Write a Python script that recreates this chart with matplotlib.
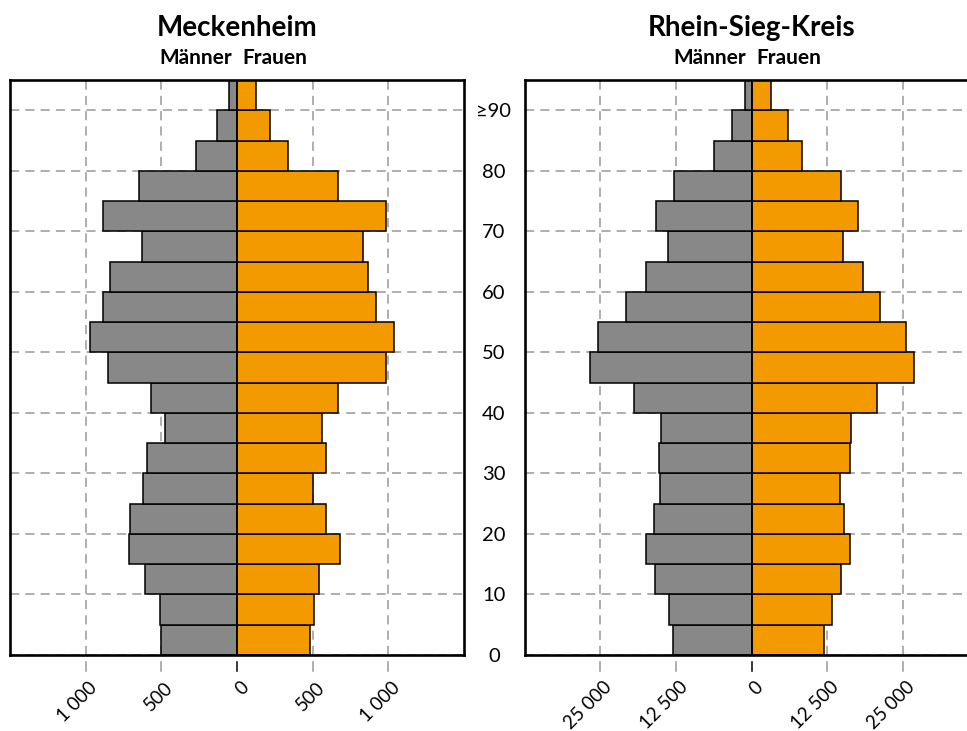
import numpy as np
import matplotlib.pyplot as plt
import matplotlib.transforms as mtransforms

plt.rcParams['font.family'] = ['Lato', 'DejaVu Sans']

# Altersgruppen: 0-4, 5-9, ..., 85-89, >=90
age_start = np.arange(0, 95, 5)

# Meckenheim
mk_maenner = [504, 509, 608, 711, 709, 623, 597, 474, 568, 855,
              971, 888, 841, 630, 888, 650, 271, 134, 51]
mk_frauen = [485, 511, 542, 683, 590, 502, 590, 564, 670, 987,
             1035, 916, 868, 833, 987, 665, 339, 218, 123]

# Rhein-Sieg-Kreis
rsk_maenner = [12900, 13700, 16000, 17350, 16100, 15150, 15350, 14900, 19400, 26650,
               25400, 20800, 17350, 13750, 15850, 12850, 6150, 3200, 1000]
rsk_frauen = [12050, 13250, 14800, 16300, 15350, 14550, 16300, 16400, 20800, 26900,
              25550, 21250, 18500, 15150, 17600, 14750, 8300, 6050, 3250]

mk_ticks = [-1000, -500, 0, 500, 1000]
mk_labels = ['1 000', '500', '0', '500', '1 000']
rsk_ticks = [-25000, -12500, 0, 12500, 25000]
rsk_labels = ['25 000', '12 500', '0', '12 500', '25 000']
y_ticks = list(range(0, 100, 10))
y_labels = ['0', '10', '20', '30', '40', '50', '60', '70', '80', '≥90']

grau = '#888888'
orange = '#F39A00'
gridfarbe = '#999999'

fig = plt.figure(figsize=(9.67, 7.31), dpi=100)
ax1 = fig.add_axes([10 / 967, 76 / 731, 454 / 967, 575 / 731])
ax2 = fig.add_axes([524.5 / 967, 76 / 731, 454 / 967, 575 / 731])


def pyramide(ax, maenner, frauen, xmax, ticks, labels, titel):
    ax.barh(age_start, -np.array(maenner), height=5, align='edge',
            color=grau, edgecolor='black', linewidth=1.1, zorder=3)
    ax.barh(age_start, frauen, height=5, align='edge',
            color=orange, edgecolor='black', linewidth=1.1, zorder=3)
    ax.axvline(0, color='black', linewidth=1.2, zorder=4)
    ax.set_xlim(-xmax, xmax)
    ax.set_ylim(0, 95)
    ax.set_xticks(ticks)
    ax.set_xticklabels(labels, rotation=45, ha='right', va='top',
                       rotation_mode='anchor', fontsize=13.5)
    ax.tick_params(axis='x', length=0, pad=17)
    # Beschriftungen ein paar Pixel nach rechts
    versatz = mtransforms.ScaledTranslation(3 / 100, 0, fig.dpi_scale_trans)
    for lab in ax.get_xticklabels():
        lab.set_transform(lab.get_transform() + versatz)
    ax.set_yticks(y_ticks)
    ax.grid(True, color=gridfarbe, linestyle=(0, (6, 4)), linewidth=1.1, zorder=0)
    for s in ax.spines.values():
        s.set_linewidth(1.9)
        s.set_zorder(5)
    # kurze gestrichelte Verlängerung unter der Achse
    trans = mtransforms.blended_transform_factory(ax.transData, ax.transAxes)
    for t in ticks:
        ax.plot([t, t], [-0.012, -0.028], transform=trans, clip_on=False,
                color='black' if t == 0 else gridfarbe, linewidth=1.1)
    ax.text(0, 1.0 + 52 / 575, titel, transform=trans, ha='center', va='center',
            fontsize=20, fontweight='bold')
    ax.text(-0.011 * 2 * xmax, 1.0 + 22 / 575, 'Männer', transform=trans, ha='right',
            va='center', fontsize=15, fontweight='bold')
    ax.text(0.011 * 2 * xmax, 1.0 + 22 / 575, 'Frauen', transform=trans, ha='left',
            va='center', fontsize=15, fontweight='bold')


pyramide(ax1, mk_maenner, mk_frauen, 1500, mk_ticks, mk_labels, 'Meckenheim')
pyramide(ax2, rsk_maenner, rsk_frauen, 37500, rsk_ticks, rsk_labels, 'Rhein-Sieg-Kreis')

ax1.tick_params(axis='y', length=0, labelleft=False)
ax2.set_yticklabels(y_labels, fontsize=14.5, ha='center')
ax2.tick_params(axis='y', length=0, pad=22)

fig.savefig('out.png', dpi=100)
